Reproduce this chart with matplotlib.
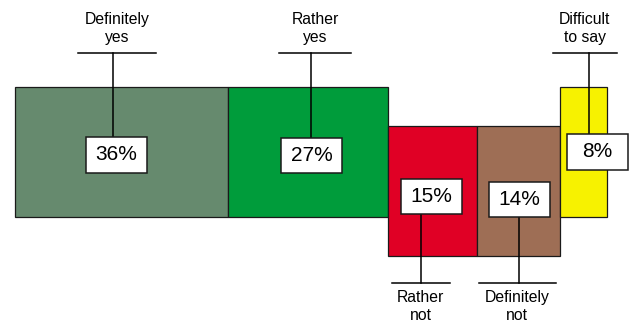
import numpy as np
import matplotlib.pyplot as plt
from matplotlib.patches import Rectangle

plt.rcParams['font.family'] = ['Liberation Sans', 'DejaVu Sans']

# answers, share of respondents, and which side of the middle line they sit on
cats = ["Definitely\nyes", "Rather\nyes", "Rather\nnot", "Definitely\nnot", "Difficult\nto say"]
pcts = [36, 27, 15, 14, 8]
side = [1, 1, -1, -1, 1]
colors = ["#668a6e", "#009c3b", "#e00025", "#9e6e55", "#f7f200"]

# placement of the value boxes and the callout lines (x in percent, y in bar heights)
box_dx = [-0.85, 0.65, -0.17, 0.17, 2.36]
box_y = [0.127, 0.123, -0.192, -0.219, 0.15]
stem_dx = [-1.44, 0.5, -1.94, 0.08, 0.93]
lab_dx = [0.68, 0.68, 0.0, -0.25, -0.68]
tick_w = [13.2, 12.2, 9.8, 13.0, 10.8]

pcts = np.array(pcts)
lefts = np.concatenate([[0], np.cumsum(pcts)[:-1]])
centers = lefts + pcts / 2
shift = 0.15
bottoms = [-0.5 + shift * s for s in side]

fig = plt.figure(figsize=(6.39, 3.22), dpi=100)
ax = fig.add_axes([0, 0, 1, 1])
ax.set_xlim(-2.534, 105.41)
ax.set_ylim(-1.158, 1.319)
ax.axis('off')

ax.bar(lefts, np.ones(len(pcts)), width=pcts, bottom=bottoms, align='edge',
       color=colors, edgecolor='#1a1a1a', linewidth=0.9, zorder=1)

bw, bh = 10.3, 0.27
for i in range(len(pcts)):
    sx = centers[i] + stem_dx[i]
    bx = centers[i] + box_dx[i]
    by = box_y[i]
    if side[i] > 0:
        ty = 0.91
        ax.plot([sx, sx], [ty, by + bh / 2], color='black', lw=1.1, zorder=2)
        ly = ty + 0.19
    else:
        ty = -0.858
        ax.plot([sx, sx], [by - bh / 2, ty], color='black', lw=1.1, zorder=2)
        ly = ty - 0.18
    lx = sx + lab_dx[i]
    ax.plot([lx - tick_w[i] / 2, lx + tick_w[i] / 2], [ty, ty], color='black', lw=1.1, zorder=2)
    ax.text(lx, ly, cats[i], ha='center', va='center', fontsize=11.3, linespacing=1.28)
    ax.add_patch(Rectangle((bx - bw / 2, by - bh / 2), bw, bh, facecolor='white',
                           edgecolor='#1a1a1a', linewidth=1.1, zorder=3))
    ax.text(bx, by, f"{pcts[i]}%", ha='center', va='center', fontsize=15, zorder=4)

fig.savefig('out.png', dpi=100)
